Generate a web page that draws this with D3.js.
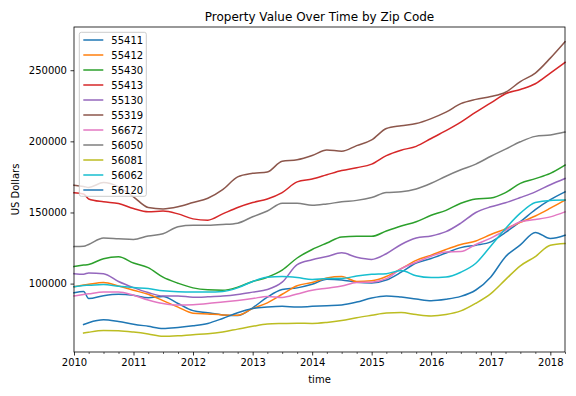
<!DOCTYPE html>
<html>
<head>
<meta charset="utf-8">
<script src="https://cdn.jsdelivr.net/npm/d3@7"></script>
<style>
  body { margin: 0; background: #fff; }
  text { font-family: "DejaVu Sans", sans-serif; fill: #000; }
</style>
</head>
<body>
<script>
// sample dates (quarterly, plus March 2010 where two series begin)
const dates = ["2010-01", "2010-03", "2010-04", "2010-07", "2010-10",
  "2011-01", "2011-04", "2011-07", "2011-10",
  "2012-01", "2012-04", "2012-07", "2012-10",
  "2013-01", "2013-04", "2013-07", "2013-10",
  "2014-01", "2014-04", "2014-07", "2014-10",
  "2015-01", "2015-04", "2015-07", "2015-10",
  "2016-01", "2016-04", "2016-07", "2016-10",
  "2017-01", "2017-04", "2017-07", "2017-10",
  "2018-01", "2018-04"];

const zips = ["55411", "55412", "55430", "55413", "55130", "55319",
  "56672", "56050", "56081", "56062", "56120"];

const v55411 = [93500, 94500, 89500, 91500, 92500, 91800, 90000, 91000, 86000,
  81000, 79500, 78000, 77500, 83000, 90500, 95800, 97000, 99500, 103000, 102500,
  101000, 100500, 102500, 108000, 114500, 117600, 121500, 125300, 127000, 129300,
  136000, 143500, 152000, 159000, 164500];
const v55412 = [97800, 99000, 99500, 100700, 98300, 95300, 92500, 88000, 83500,
  79200, 78600, 78000, 77800, 82500, 86500, 92500, 98500, 100800, 104000, 105000,
  101500, 102000, 105000, 110500, 116300, 120000, 124000, 127500, 130000, 134500,
  138500, 143000, 147500, 153000, 158700];
const v55430 = [112000, 113000, 113500, 117500, 118800, 114500, 111200, 104500,
  100300, 97000, 95600, 95300, 97500, 101500, 104500, 109500, 118000, 124000,
  128500, 132800, 133300, 133200, 137000, 140500, 143500, 148000, 151500, 156500,
  159500, 160200, 164000, 170500, 173800, 177500, 183300];
const v55413 = [163800, 163000, 159500, 157500, 156300, 152800, 150500, 151000,
  149000, 145500, 144600, 149000, 153500, 157000, 159500, 164000, 171500, 173500,
  176500, 179500, 181500, 184000, 190000, 193800, 196500, 202000, 207500, 213500,
  220500, 227000, 233500, 236500, 240500, 248000, 255500];
const v55130 = [107000, 106600, 107500, 107000, 101500, 97200, 93700, 91300,
  91300, 90400, 90700, 91200, 92300, 94000, 95800, 101000, 113300, 116700, 119000,
  121600, 118500, 117000, 121000, 127500, 132000, 133500, 136500, 142500, 150000,
  154000, 156800, 160500, 164500, 169500, 173900];
const v55319 = [169200, 168300, 167600, 171000, 168000, 161000, 153500, 152500,
  154000, 157000, 160000, 166000, 175000, 177500, 178500, 186000, 187000, 190000,
  194000, 193000, 197000, 201000, 209000, 211000, 212500, 216000, 220500, 226500,
  229500, 231500, 234500, 242000, 248000, 258500, 270000];
const v56672 = [91300, 92300, 92800, 94100, 94100, 91800, 88500, 86000, 84900,
  85200, 86000, 87100, 88200, 89500, 91000, 90300, 92700, 95300, 96800, 98300,
  100800, 101000, 103500, 110500, 115000, 119200, 122300, 122500, 127500, 132000,
  137500, 143500, 145000, 146900, 150400];
const v56050 = [126000, 126200, 127500, 132000, 131500, 131000, 133500, 135000,
  140000, 141000, 141000, 141500, 142500, 147000, 151000, 156500, 156500, 155000,
  156000, 157500, 158500, 160500, 164000, 164500, 166500, 170500, 175500, 180000,
  184000, 189500, 194500, 199700, 203500, 204500, 206500];
const v56081 = [null, 65200, 65800, 67000, 66800, 65900, 64600, 62900, 63300,
  64100, 64700, 66000, 68000, 70000, 71600, 72000, 72200, 72000, 72700, 74000,
  76000, 77700, 79300, 79600, 78200, 77300, 78300, 80800, 86200, 93000, 102800,
  112500, 119000, 127000, 128200];
const v56062 = [97800, 98700, 98800, 99300, 98100, 97200, 96500, 95000, 94300,
  94100, 94100, 94500, 97000, 101500, 104500, 105000, 104300, 102800, 103500,
  103600, 105300, 106500, 107000, 109200, 105500, 104200, 104600, 108000, 114300,
  126500, 138700, 149500, 157000, 158500, 158700];
const v56120 = [null, 71300, 72500, 74500, 73300, 71500, 70000, 68500, 69200,
  70300, 72000, 75500, 79500, 82500, 83500, 84000, 83500, 84000, 84500, 85000,
  87000, 89900, 91300, 90500, 89200, 88000, 89000, 91000, 95500, 104700, 118900,
  127200, 136000, 131700, 134000];

const yTicks = [100000, 150000, 200000, 250000];
const colors = ["#1f77b4", "#ff7f0e", "#2ca02c", "#d62728", "#9467bd", "#8c564b",
  "#e377c2", "#7f7f7f", "#bcbd22", "#17becf", "#1f77b4"];

const seriesValues = [v55411, v55412, v55430, v55413, v55130, v55319,
  v56672, v56050, v56081, v56062, v56120];

const parse = d3.timeParse("%Y-%m");
const dateObjs = dates.map(parse);
const series = zips.map((z, i) => ({
  zip: z,
  color: colors[i],
  points: seriesValues[i].map((v, j) => ({ date: dateObjs[j], value: v }))
}));

const W = 576, H = 396;
const margin = { top: 27, right: 11, bottom: 44, left: 74 };
const width = W - margin.left - margin.right;
const height = H - margin.top - margin.bottom;

const svg = d3.select("body").append("svg")
  .attr("width", W)
  .attr("height", H);

const chart = svg.append("g")
  .attr("transform", `translate(${margin.left}, ${margin.top})`);

const x = d3.scaleTime()
  .domain(d3.extent(dateObjs))
  .range([0, width]);

// y range padded 5% like matplotlib; low end set a touch under the yellow minimum
const allVals = seriesValues.flat().filter(v => v != null);
const hi = d3.max(allVals);
const lo = 62300;
const pad = (hi - lo) * 0.05;
const y = d3.scaleLinear()
  .domain([lo - pad, hi + pad])
  .range([height, 0]);

const line = d3.line()
  .defined(d => d.value != null)
  .x(d => x(d.date))
  .y(d => y(d.value))
  .curve(d3.curveMonotoneX);

chart.selectAll(".series")
  .data(series)
  .enter()
  .append("path")
  .attr("class", "series")
  .attr("fill", "none")
  .attr("stroke", d => d.color)
  .attr("stroke-width", 1.5)
  .attr("stroke-linejoin", "round")
  .attr("stroke-linecap", "square")
  .attr("d", d => line(d.points));

// x axis: yearly major ticks, quarterly minor ticks
const years = d3.timeYear.range(parse("2010-01"), parse("2018-04"));
const quarters = d3.timeMonth.every(3).range(parse("2010-01"), parse("2018-05"))
  .filter(d => d.getMonth() !== 0);

const xMinor = chart.append("g")
  .attr("transform", `translate(0, ${height})`)
  .call(d3.axisBottom(x).tickValues(quarters).tickSize(2).tickFormat(""));
xMinor.selectAll("line").attr("stroke-width", 0.6);

const xMajor = chart.append("g")
  .attr("transform", `translate(0, ${height})`)
  .call(d3.axisBottom(x).tickValues(years).tickSize(3.5).tickPadding(3.5)
    .tickFormat(d3.timeFormat("%Y")));
xMajor.selectAll("line").attr("stroke-width", 0.8);

const yAxis = chart.append("g")
  .call(d3.axisLeft(y).tickValues(yTicks).tickSize(3.5).tickPadding(3.5)
    .tickFormat(d3.format("d")));
yAxis.selectAll("line").attr("stroke-width", 0.8);

chart.selectAll(".domain").remove();
chart.selectAll(".tick text")
  .attr("font-size", 10)
  .attr("font-family", "DejaVu Sans, sans-serif")
  .attr("fill", "#000");
chart.selectAll(".tick line").attr("stroke", "#000");

// frame
chart.append("rect")
  .attr("width", width)
  .attr("height", height)
  .attr("fill", "none")
  .attr("stroke", "#000")
  .attr("stroke-width", 0.8);

// legend
const legend = chart.append("g")
  .attr("transform", "translate(5.3, 5.3)");
legend.append("rect")
  .attr("width", 67)
  .attr("height", 164)
  .attr("rx", 2)
  .attr("fill", "#fff")
  .attr("fill-opacity", 0.8)
  .attr("stroke", "#ccc")
  .attr("stroke-width", 1);
const rows = legend.selectAll(".row")
  .data(series)
  .enter()
  .append("g")
  .attr("transform", (d, i) => `translate(0, ${7.7 + i * 15})`);
rows.append("line")
  .attr("x1", 4).attr("x2", 24)
  .attr("stroke", d => d.color)
  .attr("stroke-width", 1.5);
rows.append("text")
  .attr("x", 32)
  .attr("dy", "0.35em")
  .attr("font-size", 10)
  .text(d => d.zip);

// titles
svg.append("text")
  .attr("x", margin.left + width / 2)
  .attr("y", 21)
  .attr("text-anchor", "middle")
  .attr("font-size", 12)
  .text("Property Value Over Time by Zip Code");

svg.append("text")
  .attr("x", margin.left + width / 2)
  .attr("y", 383)
  .attr("text-anchor", "middle")
  .attr("font-size", 10)
  .text("time");

svg.append("text")
  .attr("transform", `translate(18.5, ${margin.top + height / 2}) rotate(-90)`)
  .attr("text-anchor", "middle")
  .attr("font-size", 10)
  .text("US Dollars");
</script>
</body>
</html>
